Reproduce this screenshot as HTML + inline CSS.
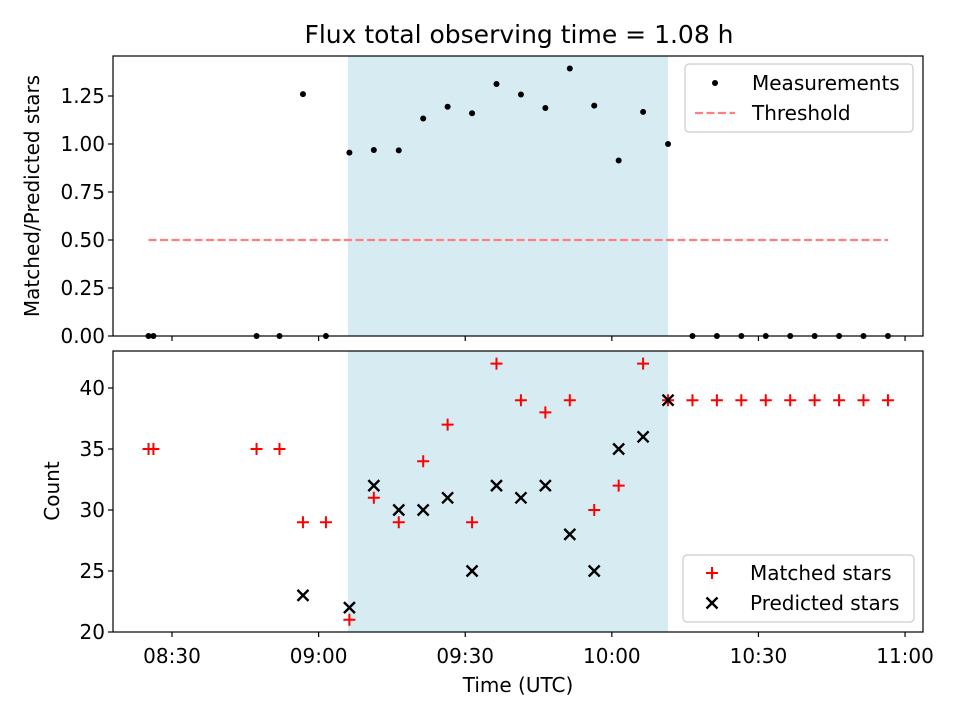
<!DOCTYPE html>
<html><head><meta charset="utf-8"><style>
body{margin:0;background:#fff}
svg text{font-family:"DejaVu Sans","Liberation Sans",sans-serif;fill:#000}
</style></head><body>
<svg id="chart" width="960" height="720" xmlns="http://www.w3.org/2000/svg">
<text x="519" y="43" font-size="25" text-anchor="middle">Flux total observing time = 1.08 h</text>
<g id="topg"></g><g id="botg"></g>
</svg>
<script>
// time in minutes after 08:00
const times = [25.2,26.2,47.3,52,56.8,61.5,66.3,71.3,76.4,81.4,86.4,91.4,96.4,101.4,106.4,111.4,116.4,121.4,126.4,131.5,136.5,141.5,146.5,151.5,156.5,161.5,166.5,171.5,176.5];
const matched = [35,35,35,35,29,29,21,31,29,34,37,29,42,39,38,39,30,32,42,39,39,39,39,39,39,39,39,39,39];
const predicted = [null,null,null,null,23,null,22,32,30,30,31,25,32,31,32,28,25,35,36,39,null,null,null,null,null,null,null,null,null];
const ratios = [0,0,0,0,1.26,0,0.955,0.969,0.967,1.133,1.194,1.16,1.3125,1.258,1.1875,1.393,1.2,0.914,1.167,1.0,0,0,0,0,0,0,0,0,0];
const xTicks = [30,60,90,120,150,180];
const xTickLabels = ["08:30","09:00","09:30","10:00","10:30","11:00"];
const topTicks = [0,0.25,0.5,0.75,1.0,1.25];
const botTicks = [20,25,30,35,40];
const threshold = 0.5;
const span = [66,131.5];

const NS="http://www.w3.org/2000/svg";
const L=113,R=923,FS=20;
const x = t => 172 + (t-30)*4.887;
const yTop = v => 336 - v*192;
const yBot = v => 632 - (v-20)*12.2;
function el(tag,attrs,parent){const e=document.createElementNS(NS,tag);for(const k in attrs)e.setAttribute(k,attrs[k]);parent.appendChild(e);return e;}
const gTop=document.getElementById('topg'), gBot=document.getElementById('botg');

function axes(g,T,B,name){
  const s=el('rect',{x:x(span[0]),y:T,width:x(span[1])-x(span[0]),height:B-T,fill:'#add8e6','fill-opacity':0.5},g);
  
  
  xTicks.forEach((t,i)=>{
    const tk=el('line',{x1:x(t),x2:x(t),y1:B,y2:B+5,stroke:'#000','stroke-width':1.2},g);
    
    
  });
}
function frame(g,T,B,name){
  const f=el('rect',{x:L,y:T,width:R-L,height:B-T,fill:'none',stroke:'#000','stroke-width':1.2},g);
  
  
}
// TOP
axes(gTop,56,336,'top');
topTicks.forEach(v=>{
  el('line',{x1:L-5,x2:L,y1:yTop(v),y2:yTop(v),stroke:'#000','stroke-width':1.2},gTop);
  const t=el('text',{x:L-8,y:yTop(v)+7,'font-size':FS,'text-anchor':'end'},gTop);
  t.textContent=v.toFixed(2);
  
  
});
const th=el('line',{x1:x(times[0]),x2:x(times[times.length-1]),y1:yTop(threshold),y2:yTop(threshold),stroke:'#ff7f7f','stroke-width':2.2,'stroke-dasharray':'8,3.5'},gTop);


times.forEach((t,i)=>{
  const c=el('circle',{cx:x(t),cy:yTop(ratios[i]),r:3,fill:'#000'},gTop);
  
  
});
frame(gTop,56,336,'top');
const yl1=el('text',{transform:'translate(39,196) rotate(-90)','font-size':FS,'text-anchor':'middle'},gTop);
yl1.textContent='Matched/Predicted stars';


const lg1=el('g',{},gTop);


el('rect',{x:685,y:64,width:228,height:68,rx:4,fill:'#fff',stroke:'#ccc','stroke-width':1.2},lg1);
el('circle',{cx:715,cy:83,r:3,fill:'#000'},lg1);
let t1=el('text',{x:752,y:90,'font-size':FS},lg1);t1.textContent='Measurements';
el('line',{x1:695,x2:735,y1:113,y2:113,stroke:'#ff7f7f','stroke-width':2.2,'stroke-dasharray':'8,3.5'},lg1);
let t2=el('text',{x:752,y:120,'font-size':FS},lg1);t2.textContent='Threshold';

// BOTTOM
axes(gBot,351,632,'bottom');
botTicks.forEach(v=>{
  el('line',{x1:L-5,x2:L,y1:yBot(v),y2:yBot(v),stroke:'#000','stroke-width':1.2},gBot);
  const t=el('text',{x:L-8,y:yBot(v)+7,'font-size':FS,'text-anchor':'end'},gBot);
  t.textContent=v;
  
  
});
function plus(g,cx,cy,c){el('path',{d:`M${cx-6},${cy}H${cx+6}M${cx},${cy-6}V${cy+6}`,stroke:c,'stroke-width':2},g);}
function cross(g,cx,cy,c){el('path',{d:`M${cx-5.5},${cy-5.5}L${cx+5.5},${cy+5.5}M${cx-5.5},${cy+5.5}L${cx+5.5},${cy-5.5}`,stroke:c,'stroke-width':2.4},g);}
times.forEach((t,i)=>{
  const g=el('g',{},gBot);
  
  
  plus(g,x(t),yBot(matched[i]),'#f00');
});
times.forEach((t,i)=>{
  if(predicted[i]==null)return;
  const g=el('g',{},gBot);
  
  
  cross(g,x(t),yBot(predicted[i]),'#000');
});
frame(gBot,351,632,'bottom');
xTicks.forEach((t,i)=>{
  const tl=el('text',{x:x(t),y:663,'font-size':FS,'text-anchor':'middle'},gBot);
  tl.textContent=xTickLabels[i];
  
  
});
const xl=el('text',{x:518,y:692,'font-size':FS,'text-anchor':'middle'},gBot);
xl.textContent='Time (UTC)';


const yl2=el('text',{transform:'translate(59,491) rotate(-90)','font-size':FS,'text-anchor':'middle'},gBot);
yl2.textContent='Count';


const lg2=el('g',{},gBot);


el('rect',{x:683,y:555,width:231,height:67,rx:4,fill:'#fff',stroke:'#ccc','stroke-width':1.2},lg2);
plus(lg2,712,573,'#f00');
let t3=el('text',{x:750,y:580,'font-size':FS},lg2);t3.textContent='Matched stars';
cross(lg2,712,603,'#000');
let t4=el('text',{x:750,y:610,'font-size':FS},lg2);t4.textContent='Predicted stars';
</script>
</body></html>
